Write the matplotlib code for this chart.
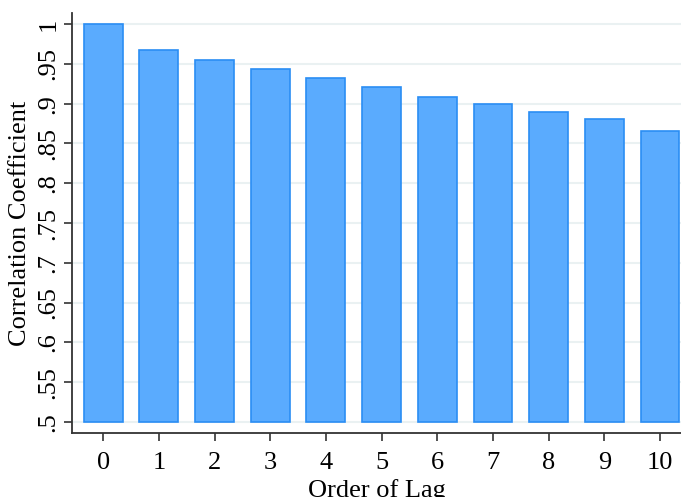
import numpy as np
import matplotlib.pyplot as plt

plt.rcParams['font.family'] = ['Liberation Serif', 'DejaVu Serif']

lags = np.arange(11)
corr = [1.0, 0.967, 0.955, 0.944, 0.932, 0.921, 0.908, 0.900, 0.889, 0.881, 0.865]
yticks = [0.5, 0.55, 0.6, 0.65, 0.7, 0.75, 0.8, 0.85, 0.9, 0.95, 1.0]
ylabels = ['.5', '.55', '.6', '.65', '.7', '.75', '.8', '.85', '.9', '.95', '1']

fig = plt.figure(figsize=(6.81, 4.97), dpi=100)
ax = fig.add_axes([0.1057, 0.1288, 0.8943, 0.845])

base = 0.5
ax.bar(lags, np.array(corr) - base, bottom=base, width=0.7,
       color='#5aabfe', edgecolor='#2a8df4', linewidth=1.2, zorder=3)

ax.set_xlim(-0.562, 10.377)
ax.set_ylim(0.4862, 1.0138)
ax.set_xticks(lags)
ax.set_yticks(yticks)
ax.set_yticklabels(ylabels, rotation=90, va='center')

ax.grid(axis='y', color='#eaf1f2', linewidth=1.5, zorder=0)
ax.set_axisbelow(True)

for s in ['top', 'right']:
    ax.spines[s].set_visible(False)
for s in ['left', 'bottom']:
    ax.spines[s].set_color('#333333')
    ax.spines[s].set_linewidth(1.3)

ax.tick_params(axis='both', labelsize=19, length=6, width=1.2, color='#333333')
ax.tick_params(axis='x', pad=8)
ax.tick_params(axis='y', pad=3)
ax.set_xlabel('Order of Lag', fontsize=19, labelpad=3)
ax.set_ylabel('Correlation Coefficient', fontsize=19, labelpad=5)

fig.savefig('out.png', dpi=100)
